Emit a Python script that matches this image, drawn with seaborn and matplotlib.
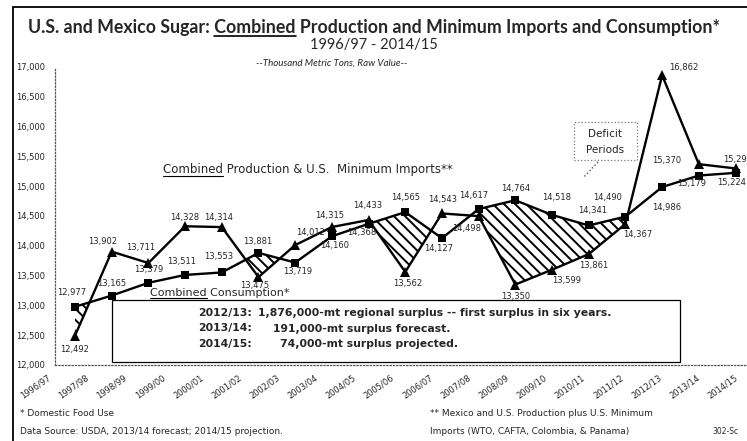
import numpy as np
import pandas as pd
import matplotlib
matplotlib.use("Agg")
import matplotlib.pyplot as plt
import seaborn as sns
from matplotlib.lines import Line2D
from matplotlib.patches import Rectangle
from matplotlib.transforms import ScaledTranslation

years = ["1996/97", "1997/98", "1998/99", "1999/00", "2000/01", "2001/02",
         "2002/03", "2003/04", "2004/05", "2005/06", "2006/07", "2007/08",
         "2008/09", "2009/10", "2010/11", "2011/12", "2012/13", "2013/14",
         "2014/15"]

# combined production + US minimum imports (triangles)
production = [12492, 13902, 13711, 14328, 14314, 13475, 14012, 14315, 14433,
              13562, 14543, 14498, 13350, 13599, 13861, 14367, 16862, 15370,
              15298]

# combined consumption (squares)
consumption = [12977, 13165, 13379, 13511, 13553, 13881, 13719, 14160, 14368,
               14565, 14127, 14617, 14764, 14518, 14341, 14490, 14986, 15179,
               15224]

yticks = list(range(12000, 17001, 500))

notes_years = ["2012/13:", "2013/14:", "2014/15:"]
notes_text = ["1,876,000-mt regional surplus -- first surplus in six years.",
              "191,000-mt surplus forecast.",
              "74,000-mt surplus projected."]

# label offsets in pixels (dx, dy) from each point
prod_off = [(0, -14), (-9, 10), (-8, 16), (0, 9), (-3, 10), (-4, -8),
            (15, 13), (-2, 12), (-1, 14), (2, -12), (1, 14), (-12, -12),
            (0, -12), (15, -11), (5, -11), (12, -11), (22, 8), (-32, 4),
            (2, 9)]
cons_off = [(-3, 14), (0, 12), (0, 13), (-3, 13), (-3, 16), (-1, 11),
            (2, -9), (3, -9), (-7, -9), (0, 15), (-3, -10), (-5, 14),
            (0, 12), (5, 17), (4, 15), (-18, 19), (5, -20), (-7, -8),
            (-4, -10)]

sns.set_style("white")
plt.rcParams["font.family"] = ["DejaVu Sans"]
plt.rcParams["hatch.linewidth"] = 1.4

df = pd.DataFrame({"idx": np.arange(len(years)),
                   "production": production,
                   "consumption": consumption})

W, H = 747, 441
fig = plt.figure(figsize=(W / 100, H / 100), dpi=100)
ax = fig.add_axes([55 / W, 1 - 365 / H, (748 - 55) / W, (365 - 67) / H])

# deficit hatching
ax.fill_between(df["idx"], df["production"], df["consumption"],
                where=df["consumption"] > df["production"], interpolate=True,
                facecolor="none", edgecolor="black", hatch="\\\\\\",
                linewidth=0, zorder=1)

sns.lineplot(data=df, x="idx", y="production", ax=ax, color="black",
             marker="^", markersize=6.5, linewidth=1.7, markeredgewidth=0,
             zorder=3)
sns.lineplot(data=df, x="idx", y="consumption", ax=ax, color="black",
             marker="s", markersize=6, linewidth=1.7, markeredgewidth=0,
             zorder=3)

for i, v in enumerate(production):
    ax.annotate(f"{v:,}", (i, v), xytext=prod_off[i],
                textcoords="offset pixels", ha="center", va="center",
                fontsize=6, annotation_clip=False)
for i, v in enumerate(consumption):
    ax.annotate(f"{v:,}", (i, v), xytext=cons_off[i],
                textcoords="offset pixels", ha="center", va="center",
                fontsize=6, annotation_clip=False)

ax.set_yticks(yticks, [f"{t:,}" for t in yticks])
ax.set_xticks(df["idx"], years, rotation=35, ha="right",
              rotation_mode="anchor")
ax.set_xlim(-0.545, 18.34)
ax.set_ylim(12000, 17000)
ax.tick_params(axis="x", length=0, pad=6, labelsize=6)
ax.tick_params(axis="y", length=0, pad=7, labelsize=6)
# category labels drift a little against the points in the original
for i, lab in enumerate(ax.get_xticklabels()):
    dx = (-28 + 1.5 * i) / 100
    lab.set_transform(lab.get_transform()
                      + ScaledTranslation(dx, 0, fig.dpi_scale_trans))
ax.set_xlabel("")
ax.set_ylabel("")
for s in ["top", "right"]:
    ax.spines[s].set_visible(False)
for s in ["left", "bottom"]:
    ax.spines[s].set_linestyle(":")
    ax.spines[s].set_color("#555555")
    ax.spines[s].set_linewidth(0.9)

# outer frame
fig.patches.append(Rectangle((13 / W, -0.1), 1.1, 1 - 7 / H + 0.1,
                             transform=fig.transFigure, fill=False,
                             edgecolor="black", linewidth=1.3))

renderer = fig.canvas.get_renderer()


def underline(txt, before, word, lw=0.8):
    # draw a line under `word`, which follows `before` inside txt
    bb = txt.get_window_extent(renderer)
    props = dict(fontproperties=txt.get_fontproperties())
    t1 = fig.text(0, 0, before + word, **props)
    t2 = fig.text(0, 0, word, **props)
    w1 = t1.get_window_extent(renderer).width
    w2 = t2.get_window_extent(renderer).width
    t1.remove()
    t2.remove()
    x1 = bb.x0 + w1
    x0 = x1 - w2
    y = bb.y0 + 0.5
    fig.add_artist(Line2D([x0 / W, x1 / W], [y / H, y / H],
                          transform=fig.transFigure, color="black",
                          linewidth=lw, zorder=8))


title = fig.text(374 / W, 1 - 28 / H,
                 "U.S. and Mexico Sugar: Combined Production and Minimum "
                 "Imports and Consumption*", ha="center", va="center",
                 fontsize=12.8, fontweight="bold", family="Lato")
underline(title, "U.S. and Mexico Sugar: ", "Combined", lw=1.2)
fig.text(374 / W, 1 - 45 / H, "1996/97 - 2014/15", ha="center", va="center",
         fontsize=10.5, family="Lato")
fig.text(332 / W, 1 - 63 / H, "--Thousand Metric Tons, Raw Value--",
         ha="center", va="center", fontsize=7, style="italic", family="Lato")

t = fig.text(163 / W, 1 - 170 / H,
             "Combined Production & U.S.  Minimum Imports**", ha="left",
             va="center", fontsize=8.5)
underline(t, "", "Combined")
t = fig.text(150 / W, 1 - 293 / H, "Combined Consumption*", ha="left",
             va="center", fontsize=8)
underline(t, "", "Combined")

# surplus notes box
fig.patches.append(Rectangle((112 / W, 1 - 362 / H), 568 / W, 62 / H,
                             transform=fig.transFigure, facecolor="white",
                             edgecolor="black", linewidth=0.9, zorder=5))
note_x = [258, 273, 280]
for k in range(3):
    yy = 1 - (313 + 15.5 * k) / H
    fig.text(198 / W, yy, notes_years[k], ha="left", va="center",
             fontsize=7.8, fontweight="bold", zorder=6)
    fig.text(note_x[k] / W, yy, notes_text[k], ha="left", va="center",
             fontsize=7.8, fontweight="bold", zorder=6)

# deficit periods callout
fig.patches.append(Rectangle((574 / W, 1 - 160 / H), 63 / W, 38 / H,
                             transform=fig.transFigure, facecolor="white",
                             edgecolor="#777777", linestyle=":",
                             linewidth=0.9, zorder=5))
fig.text(605 / W, 1 - 134 / H, "Deficit", ha="center", va="center",
         fontsize=7.5, zorder=6)
fig.text(605 / W, 1 - 150 / H, "Periods", ha="center", va="center",
         fontsize=7.5, zorder=6)
fig.add_artist(Line2D([598 / W, 583 / W], [1 - 162 / H, 1 - 178 / H],
                      transform=fig.transFigure, color="#555555",
                      linestyle=":", linewidth=1))

# footnotes
fig.text(20 / W, 1 - 413 / H, "* Domestic Food Use", fontsize=6.5,
         va="center")
fig.text(20 / W, 1 - 431 / H,
         "Data Source: USDA, 2013/14 forecast; 2014/15 projection.",
         fontsize=6.5, va="center")
fig.text(430 / W, 1 - 413 / H,
         "** Mexico and U.S. Production plus U.S. Minimum", fontsize=6.5,
         va="center")
fig.text(430 / W, 1 - 431 / H, "Imports (WTO, CAFTA, Colombia, & Panama)",
         fontsize=6.5, va="center")
fig.text(712 / W, 1 - 431 / H, "302-Sc", fontsize=5.5, va="center")

fig.savefig("out.png", dpi=100)
